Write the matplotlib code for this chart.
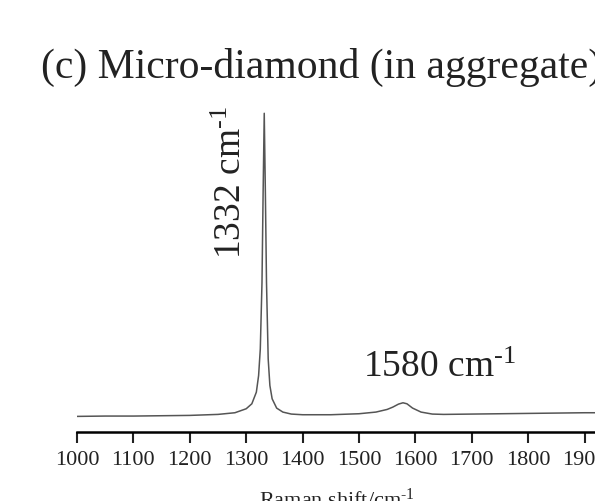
import matplotlib
matplotlib.use("Agg")
import matplotlib.pyplot as plt

plt.rcParams['font.family'] = ['Liberation Serif', 'DejaVu Serif']
plt.rcParams['mathtext.fontset'] = 'custom'
plt.rcParams['mathtext.rm'] = 'Liberation Serif'
plt.rcParams['mathtext.it'] = 'Liberation Serif:italic'

# Raman spectrum of micro-diamond (normalised intensity)
shift = [1000, 1050, 1100, 1150, 1200, 1250, 1280, 1300, 1310, 1318, 1322,
         1325, 1328, 1330, 1332, 1334, 1336, 1339, 1342, 1346, 1354, 1365,
         1380, 1400, 1450, 1500, 1530, 1550, 1560, 1570, 1578, 1585, 1595,
         1610, 1630, 1650, 1700, 1750, 1800, 1850, 1900, 1950]
intensity = [0.047, 0.048, 0.048, 0.049, 0.050, 0.053, 0.058, 0.070, 0.085,
             0.120, 0.170, 0.250, 0.450, 0.720, 0.960, 0.720, 0.450, 0.220,
             0.140, 0.100, 0.072, 0.060, 0.054, 0.052, 0.052, 0.055, 0.060,
             0.068, 0.075, 0.084, 0.088, 0.085, 0.072, 0.060, 0.054, 0.053,
             0.054, 0.055, 0.056, 0.057, 0.058, 0.058]

tick_values = list(range(1000, 2000, 100))
title_text = "(c) Micro-diamond (in aggregate)"
xlabel_text = r"Raman shift/cm$^{\text{-}1}$"
peak_labels = [r"1332 cm$^{\text{-}1}$", r"1580 cm$^{\text{-}1}$"]

fig = plt.figure(figsize=(5.95, 5.01), dpi=100)
ax = fig.add_axes([77 / 595, 69 / 501, 520 / 595, 332 / 501])

ax.plot(shift, intensity, color="#555555", lw=1.1)

ax.set_xlim(1000, 1922)
ax.set_ylim(0, 1)
for side in ("left", "right", "top"):
    ax.spines[side].set_visible(False)
ax.spines["bottom"].set_linewidth(1.8)
ax.set_yticks([])
ax.set_xticks(tick_values)
ax.tick_params(axis="x", direction="out", length=8, width=1.5, pad=6,
               labelsize=16, colors="#222222")

ax.set_xlabel(xlabel_text, fontsize=16, labelpad=13, color="#222222")

ax.text(1275, 0.75, peak_labels[0], rotation=90, ha="center", va="center",
        fontsize=27, color="#222222")
ax.text(1642, 0.193, peak_labels[1], ha="center", va="center",
        fontsize=27, color="#222222")

fig.text(41 / 595, 1 - 78 / 501, title_text, ha="left", va="baseline",
         fontsize=30, color="#222222")

fig.savefig("out.png", dpi=100)
